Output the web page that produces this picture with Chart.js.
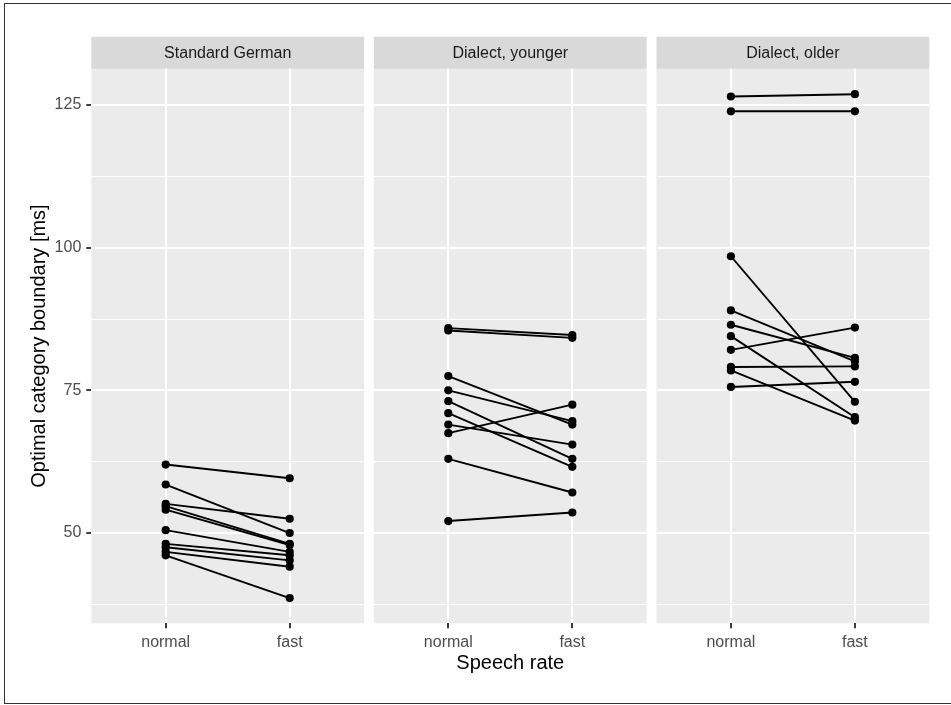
<!DOCTYPE html>
<html>
<head>
<meta charset="utf-8">
<title>Optimal category boundary by speech rate</title>
<script src="https://cdn.jsdelivr.net/npm/chart.js@4.4.1/dist/chart.umd.min.js"></script>
<style>
  html, body { margin: 0; padding: 0; background: #ffffff; overflow: hidden; }
  #page { position: relative; width: 951px; height: 705px; overflow: hidden; }
  #page canvas { position: absolute; left: 0; top: 0; }
  #frame {
    position: absolute; left: 4px; top: 3px; width: 970px; height: 701px;
    border: 1px solid #333333; box-sizing: border-box;
  }
</style>
</head>
<body>
<div id="page">
  <div id="frame"></div>
  <canvas id="panel0" width="951" height="705"></canvas>
  <canvas id="panel1" width="951" height="705"></canvas>
  <canvas id="panel2" width="951" height="705"></canvas>
</div>

<script>
// ---- Data ----
const rateLabels   = ['normal', 'fast'];
const panelTitles  = ['Standard German', 'Dialect, younger', 'Dialect, older'];
const yMajorTicks  = [50, 75, 100, 125];
const yMinorTicks  = [37.5, 62.5, 87.5, 112.5];

// one value per speaker, normal rate and fast rate
const sgNormal = [62.0, 58.5, 55.1, 54.7, 54.1, 50.5, 48.1, 47.5, 46.7, 46.1];
const sgFast   = [59.6, 50.0, 52.5, 48.1, 47.9, 46.7, 46.1, 45.2, 44.1, 38.6];

const dyNormal = [85.9, 85.5, 77.5, 75.0, 73.1, 71.0, 69.0, 67.5, 63.0, 52.1];
const dyFast   = [84.7, 84.2, 69.0, 69.6, 63.0, 61.6, 65.5, 72.5, 57.1, 53.6];

const doNormal = [126.5, 123.9, 98.5, 89.0, 86.5, 84.5, 82.1, 79.1, 78.5, 75.6];
const doFast   = [126.9, 123.9, 73.0, 80.1, 80.7, 70.3, 86.0, 79.2, 69.7, 76.5];

// ---- Layout (pixels) ----
const FONT = '"Liberation Sans", Arial, Helvetica, sans-serif';
const panelLeft  = [91.3, 373.9, 656.5];
const panelWidth = 272.8;
const panelTop   = 68.8;
const stripHeight = 32;
const xAxisHeight = 55.7;
const bottomPad   = 26;

Chart.defaults.font.family = FONT;

// grey panel background + facet strip
const panelPlugin = {
  id: 'panel',
  beforeDraw(chart, args, opts) {
    const { ctx, chartArea: a } = chart;
    ctx.save();
    ctx.fillStyle = '#EBEBEB';
    ctx.fillRect(a.left, a.top, a.right - a.left, a.bottom - a.top);
    ctx.fillStyle = '#D9D9D9';
    ctx.fillRect(a.left, a.top - stripHeight, a.right - a.left, stripHeight);
    ctx.fillStyle = '#1A1A1A';
    ctx.font = '16px ' + FONT;
    ctx.textAlign = 'center';
    ctx.textBaseline = 'middle';
    ctx.fillText(opts.text, (a.left + a.right) / 2, a.top - stripHeight / 2 + 1);
    ctx.restore();
  }
};

const isMajor = v => yMajorTicks.includes(v);

function makePanel(index, normals, fasts) {
  const datasets = normals.map((n, i) => ({
    data: [{ x: 0, y: n }, { x: 1, y: fasts[i] }],
    borderColor: '#000000',
    borderWidth: 1.9,
    pointRadius: 4.1,
    pointBackgroundColor: '#000000',
    pointBorderWidth: 0,
    pointHoverRadius: 4.1
  }));

  const first = index === 0;

  return new Chart(document.getElementById('panel' + index), {
    type: 'line',
    data: { datasets },
    plugins: [panelPlugin],
    options: {
      responsive: false,
      animation: false,
      events: [],
      layout: {
        padding: {
          left: first ? 23 : panelLeft[index],
          right: 951 - (panelLeft[index] + panelWidth),
          top: panelTop,
          bottom: bottomPad
        }
      },
      plugins: {
        legend: { display: false },
        tooltip: { enabled: false },
        panel: { text: panelTitles[index] }
      },
      scales: {
        x: {
          type: 'linear',
          min: -0.6,
          max: 1.6,
          afterBuildTicks: s => { s.ticks = rateLabels.map((_, i) => ({ value: i })); },
          afterFit: s => { s.height = xAxisHeight; },
          ticks: {
            callback: v => rateLabels[v],
            color: '#4D4D4D',
            font: { size: 16 },
            padding: 5,
            autoSkip: false,
            maxRotation: 0
          },
          grid: {
            color: '#FFFFFF',
            lineWidth: 2,
            tickColor: '#333333',
            tickLength: 5,
            tickWidth: 1.9
          },
          border: { display: false },
          title: {
            display: index === 1,
            text: 'Speech rate',
            color: '#000000',
            font: { size: 20 },
            padding: { top: 4, bottom: 4 }
          }
        },
        y: {
          type: 'linear',
          min: 34.18,
          max: 131.35,
          afterBuildTicks: s => {
            s.ticks = yMinorTicks.concat(yMajorTicks).sort((a, b) => a - b).map(v => ({ value: v }));
          },
          afterFit: s => { s.width = first ? 68.3 : 0; },
          ticks: {
            display: first,
            callback: v => isMajor(v) ? String(v) : '',
            color: '#4D4D4D',
            font: { size: 16 },
            padding: 5,
            autoSkip: false
          },
          grid: {
            color: '#FFFFFF',
            lineWidth: c => isMajor(c.tick.value) ? 2 : 1,
            drawTicks: first,
            tickColor: c => isMajor(c.tick.value) ? '#333333' : 'rgba(0,0,0,0)',
            tickLength: 5,
            tickWidth: 1.9
          },
          border: { display: false },
          title: {
            display: first,
            text: 'Optimal category boundary [ms]',
            color: '#000000',
            font: { size: 20 },
            padding: { top: 4, bottom: 4 }
          }
        }
      }
    }
  });
}

makePanel(0, sgNormal, sgFast);
makePanel(1, dyNormal, dyFast);
makePanel(2, doNormal, doFast);
</script>
</body>
</html>
